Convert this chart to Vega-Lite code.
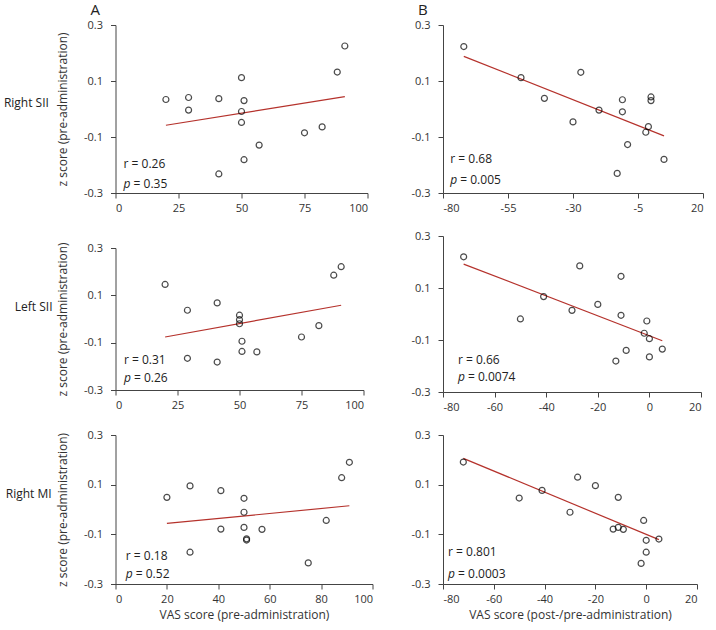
{
  "$schema": "https://vega.github.io/schema/vega-lite/v6.json",
  "padding": {"left": 1.5, "top": 3, "right": 0, "bottom": 4},
  "config": {
    "font": "Open Sans",
    "view": {"stroke": null},
    "axis": {"grid": false, "domainColor": "#444", "tickColor": "#444", "labelColor": "#333", "titleColor": "#333", "labelFont": "Open Sans", "titleFont": "Open Sans", "labelFontSize": 11, "titleFontSize": 12, "titleFontWeight": "normal", "tickSize": 5, "labelExpr": "'' + datum.value"},
    "axisX": {"labelPadding": 4, "titlePadding": 5},
    "axisY": {"labelPadding": 8, "titlePadding": 14},
    "title": {"font": "Open Sans", "fontWeight": "normal", "color": "#222"},
    "text": {"font": "Open Sans", "fontSize": 12, "color": "#222", "align": "left", "baseline": "middle"},
    "point": {"shape": "circle", "filled": false, "color": "black", "size": 36, "strokeWidth": 1.2},
    "line": {"color": "#b5322c", "strokeWidth": 1.2}
  },
  "datasets": {
    "A1": [
      {"k": "pt", "x": 20, "y": 0.034}, {"k": "pt", "x": 29, "y": 0.041}, {"k": "pt", "x": 29, "y": -0.004},
      {"k": "pt", "x": 41, "y": 0.037}, {"k": "pt", "x": 41, "y": -0.232}, {"k": "pt", "x": 50, "y": 0.112},
      {"k": "pt", "x": 50, "y": -0.009}, {"k": "pt", "x": 50, "y": -0.048}, {"k": "pt", "x": 51, "y": 0.030},
      {"k": "pt", "x": 51, "y": -0.181}, {"k": "pt", "x": 57, "y": -0.129}, {"k": "pt", "x": 75, "y": -0.085},
      {"k": "pt", "x": 82, "y": -0.064}, {"k": "pt", "x": 88, "y": 0.132}, {"k": "pt", "x": 91, "y": 0.225},
      {"k": "ln", "x": 20, "y": -0.058}, {"k": "ln", "x": 91, "y": 0.044},
      {"k": "r", "x": 3.2, "y": -0.197, "t": "r = 0.26"},
      {"k": "p", "x": 3.2, "y": -0.267, "t": "p"},
      {"k": "pv", "x": 3.2, "y": -0.267, "t": "= 0.35"}
    ],
    "A2": [
      {"k": "pt", "x": 20, "y": 0.146}, {"k": "pt", "x": 29, "y": 0.037}, {"k": "pt", "x": 29, "y": -0.166},
      {"k": "pt", "x": 41, "y": 0.068}, {"k": "pt", "x": 41, "y": -0.182}, {"k": "pt", "x": 50, "y": 0.016},
      {"k": "pt", "x": 50, "y": -0.003}, {"k": "pt", "x": 50, "y": -0.020}, {"k": "pt", "x": 51, "y": -0.094},
      {"k": "pt", "x": 51, "y": -0.137}, {"k": "pt", "x": 57, "y": -0.139}, {"k": "pt", "x": 75, "y": -0.076},
      {"k": "pt", "x": 82, "y": -0.028}, {"k": "pt", "x": 88, "y": 0.185}, {"k": "pt", "x": 91, "y": 0.221},
      {"k": "ln", "x": 20, "y": -0.076}, {"k": "ln", "x": 91, "y": 0.058},
      {"k": "r", "x": 3.4, "y": -0.175, "t": "r = 0.31"},
      {"k": "p", "x": 3.4, "y": -0.248, "t": "p"},
      {"k": "pv", "x": 3.4, "y": -0.248, "t": "= 0.26"}
    ],
    "A3": [
      {"k": "pt", "x": 20, "y": 0.049}, {"k": "pt", "x": 29, "y": 0.095}, {"k": "pt", "x": 29, "y": -0.172},
      {"k": "pt", "x": 41, "y": 0.076}, {"k": "pt", "x": 41, "y": -0.079}, {"k": "pt", "x": 50, "y": 0.045},
      {"k": "pt", "x": 50, "y": -0.011}, {"k": "pt", "x": 50, "y": -0.072}, {"k": "pt", "x": 51, "y": -0.118},
      {"k": "pt", "x": 51, "y": -0.123}, {"k": "pt", "x": 57, "y": -0.08}, {"k": "pt", "x": 75, "y": -0.215},
      {"k": "pt", "x": 82, "y": -0.044}, {"k": "pt", "x": 88, "y": 0.128}, {"k": "pt", "x": 91, "y": 0.19},
      {"k": "ln", "x": 20, "y": -0.056}, {"k": "ln", "x": 91, "y": 0.015},
      {"k": "r", "x": 4.0, "y": -0.189, "t": "r = 0.18"},
      {"k": "p", "x": 4.0, "y": -0.258, "t": "p"},
      {"k": "pv", "x": 4.0, "y": -0.258, "t": "= 0.52"}
    ],
    "B1": [
      {"k": "pt", "x": -72, "y": 0.223}, {"k": "pt", "x": -50, "y": 0.112}, {"k": "pt", "x": -41, "y": 0.038},
      {"k": "pt", "x": -27, "y": 0.131}, {"k": "pt", "x": -30, "y": -0.046}, {"k": "pt", "x": -20, "y": -0.004},
      {"k": "pt", "x": -11, "y": 0.033}, {"k": "pt", "x": -11, "y": -0.010}, {"k": "pt", "x": -9, "y": -0.127},
      {"k": "pt", "x": -13, "y": -0.23}, {"k": "pt", "x": 0, "y": 0.043}, {"k": "pt", "x": 0, "y": 0.030},
      {"k": "pt", "x": -1, "y": -0.063}, {"k": "pt", "x": -2, "y": -0.083}, {"k": "pt", "x": 5, "y": -0.18},
      {"k": "ln", "x": -72, "y": 0.188}, {"k": "ln", "x": 5, "y": -0.096},
      {"k": "r", "x": -77.2, "y": -0.179, "t": "r = 0.68"},
      {"k": "p", "x": -77.2, "y": -0.252, "t": "p"},
      {"k": "pv", "x": -77.2, "y": -0.252, "t": "= 0.005"}
    ],
    "B2": [
      {"k": "pt", "x": -72, "y": 0.22}, {"k": "pt", "x": -50, "y": -0.019}, {"k": "pt", "x": -41, "y": 0.067},
      {"k": "pt", "x": -30, "y": 0.014}, {"k": "pt", "x": -27, "y": 0.185}, {"k": "pt", "x": -20, "y": 0.037},
      {"k": "pt", "x": -11, "y": 0.145}, {"k": "pt", "x": -11, "y": -0.005}, {"k": "pt", "x": -9, "y": -0.14},
      {"k": "pt", "x": -13, "y": -0.181}, {"k": "pt", "x": -1, "y": -0.027}, {"k": "pt", "x": -2, "y": -0.074},
      {"k": "pt", "x": 0, "y": -0.095}, {"k": "pt", "x": 0, "y": -0.165}, {"k": "pt", "x": 5, "y": -0.135},
      {"k": "ln", "x": -72, "y": 0.192}, {"k": "ln", "x": 5, "y": -0.103},
      {"k": "r", "x": -74.2, "y": -0.176, "t": "r = 0.66"},
      {"k": "p", "x": -74.2, "y": -0.244, "t": "p"},
      {"k": "pv", "x": -74.2, "y": -0.244, "t": "= 0.0074"}
    ],
    "B3": [
      {"k": "pt", "x": -72, "y": 0.191}, {"k": "pt", "x": -50, "y": 0.046}, {"k": "pt", "x": -41, "y": 0.077},
      {"k": "pt", "x": -30, "y": -0.011}, {"k": "pt", "x": -27, "y": 0.13}, {"k": "pt", "x": -20, "y": 0.096},
      {"k": "pt", "x": -11, "y": 0.049}, {"k": "pt", "x": -13, "y": -0.079}, {"k": "pt", "x": -11, "y": -0.072},
      {"k": "pt", "x": -9, "y": -0.08}, {"k": "pt", "x": -1, "y": -0.044}, {"k": "pt", "x": 0, "y": -0.124},
      {"k": "pt", "x": 0, "y": -0.172}, {"k": "pt", "x": -2, "y": -0.217}, {"k": "pt", "x": 5, "y": -0.119},
      {"k": "ln", "x": -72, "y": 0.206}, {"k": "ln", "x": 5, "y": -0.1215},
      {"k": "r", "x": -78, "y": -0.171, "t": "r = 0.801"},
      {"k": "p", "x": -78, "y": -0.258, "t": "p"},
      {"k": "pv", "x": -78, "y": -0.258, "t": "= 0.0003"}
    ]
  },
  "spacing": 36.5,
  "hconcat": [
    {
      "title": {"text": "A", "anchor": "start", "frame": "group", "fontSize": 15, "dx": -25, "offset": 1},
      "bounds": "flush",
      "spacing": 55,
      "vconcat": [
        {
          "width": 252, "height": 168,
          "title": {"text": "Right  SII", "orient": "left", "angle": 0, "align": "center", "baseline": "middle", "anchor": "middle", "offset": -18, "dy": -6, "fontSize": 12},
          "data": {"name": "A1"},
          "encoding": {
            "x": {"field": "x", "type": "quantitative", "scale": {"domain": [0, 100], "nice": false}, "axis": {"values": [0, 25, 50, 75, 100], "title": null}},
            "y": {"field": "y", "type": "quantitative", "scale": {"domain": [-0.3, 0.3], "nice": false}, "axis": {"values": [-0.3, -0.1, 0.1, 0.3], "title": "z score (pre-administration)"}}
          },
          "layer": [
            {"transform": [{"filter": "datum.k == 'ln'"}], "mark": {"type": "line"}},
            {"transform": [{"filter": "datum.k == 'pt'"}], "mark": {"type": "point"}},
            {"transform": [{"filter": "datum.k == 'r'"}], "mark": {"type": "text"}, "encoding": {"text": {"field": "t"}}},
            {"transform": [{"filter": "datum.k == 'p'"}], "mark": {"type": "text", "fontStyle": "italic"}, "encoding": {"text": {"field": "t"}}},
            {"transform": [{"filter": "datum.k == 'pv'"}], "mark": {"type": "text", "dx": 10}, "encoding": {"text": {"field": "t"}}}
          ]
        },
        {
          "bounds": "flush",
          "spacing": 45,
          "vconcat": [
            {
              "width": 248, "height": 142,
              "title": {"text": "Left  SII", "orient": "left", "angle": 0, "align": "center", "baseline": "middle", "anchor": "middle", "offset": -18, "dy": -12, "fontSize": 12},
              "data": {"name": "A2"},
              "encoding": {
                "x": {"field": "x", "type": "quantitative", "scale": {"domain": [0, 100], "nice": false}, "axis": {"values": [0, 25, 50, 75, 100], "title": null}},
                "y": {"field": "y", "type": "quantitative", "scale": {"domain": [-0.3, 0.3], "nice": false}, "axis": {"values": [-0.3, -0.1, 0.1, 0.3], "title": "z score (pre-administration)"}}
              },
              "layer": [
                {"transform": [{"filter": "datum.k == 'ln'"}], "mark": {"type": "line"}},
                {"transform": [{"filter": "datum.k == 'pt'"}], "mark": {"type": "point"}},
                {"transform": [{"filter": "datum.k == 'r'"}], "mark": {"type": "text"}, "encoding": {"text": {"field": "t"}}},
                {"transform": [{"filter": "datum.k == 'p'"}], "mark": {"type": "text", "fontStyle": "italic"}, "encoding": {"text": {"field": "t"}}},
                {"transform": [{"filter": "datum.k == 'pv'"}], "mark": {"type": "text", "dx": 10}, "encoding": {"text": {"field": "t"}}}
              ]
            },
            {
              "width": 257, "height": 149,
              "title": {"text": "Right MI", "orient": "left", "angle": 0, "align": "center", "baseline": "middle", "anchor": "middle", "offset": -18, "dy": -16, "fontSize": 12},
              "data": {"name": "A3"},
              "encoding": {
                "x": {"field": "x", "type": "quantitative", "scale": {"domain": [0, 100], "nice": false}, "axis": {"values": [0, 20, 40, 60, 80, 100], "title": "VAS score (pre-administration)"}},
                "y": {"field": "y", "type": "quantitative", "scale": {"domain": [-0.3, 0.3], "nice": false}, "axis": {"values": [-0.3, -0.1, 0.1, 0.3], "title": "z score (pre-administration)"}}
              },
              "layer": [
                {"transform": [{"filter": "datum.k == 'ln'"}], "mark": {"type": "line"}},
                {"transform": [{"filter": "datum.k == 'pt'"}], "mark": {"type": "point"}},
                {"transform": [{"filter": "datum.k == 'r'"}], "mark": {"type": "text"}, "encoding": {"text": {"field": "t"}}},
                {"transform": [{"filter": "datum.k == 'p'"}], "mark": {"type": "text", "fontStyle": "italic"}, "encoding": {"text": {"field": "t"}}},
                {"transform": [{"filter": "datum.k == 'pv'"}], "mark": {"type": "text", "dx": 10}, "encoding": {"text": {"field": "t"}}}
              ]
            }
          ]
        }
      ]
    },
    {
      "title": {"text": "B", "anchor": "start", "frame": "group", "fontSize": 15, "dx": -25, "offset": 1},
      "bounds": "flush",
      "spacing": 43,
      "vconcat": [
        {
          "width": 260, "height": 168,
          "data": {"name": "B1"},
          "encoding": {
            "x": {"field": "x", "type": "quantitative", "scale": {"domain": [-80, 20], "nice": false}, "axis": {"values": [-80, -55, -30, -5, 20], "title": null}},
            "y": {"field": "y", "type": "quantitative", "scale": {"domain": [-0.3, 0.3], "nice": false}, "axis": {"values": [-0.3, -0.1, 0.1, 0.3], "title": null}}
          },
          "layer": [
            {"transform": [{"filter": "datum.k == 'ln'"}], "mark": {"type": "line"}},
            {"transform": [{"filter": "datum.k == 'pt'"}], "mark": {"type": "point"}},
            {"transform": [{"filter": "datum.k == 'r'"}], "mark": {"type": "text"}, "encoding": {"text": {"field": "t"}}},
            {"transform": [{"filter": "datum.k == 'p'"}], "mark": {"type": "text", "fontStyle": "italic"}, "encoding": {"text": {"field": "t"}}},
            {"transform": [{"filter": "datum.k == 'pv'"}], "mark": {"type": "text", "dx": 10}, "encoding": {"text": {"field": "t"}}}
          ]
        },
        {
          "width": 258, "height": 156,
          "data": {"name": "B2"},
          "encoding": {
            "x": {"field": "x", "type": "quantitative", "scale": {"domain": [-80, 20], "nice": false}, "axis": {"values": [-80, -60, -40, -20, 0, 20], "title": null}},
            "y": {"field": "y", "type": "quantitative", "scale": {"domain": [-0.3, 0.3], "nice": false}, "axis": {"values": [-0.3, -0.1, 0.1, 0.3], "title": null}}
          },
          "layer": [
            {"transform": [{"filter": "datum.k == 'ln'"}], "mark": {"type": "line"}},
            {"transform": [{"filter": "datum.k == 'pt'"}], "mark": {"type": "point"}},
            {"transform": [{"filter": "datum.k == 'r'"}], "mark": {"type": "text"}, "encoding": {"text": {"field": "t"}}},
            {"transform": [{"filter": "datum.k == 'p'"}], "mark": {"type": "text", "fontStyle": "italic"}, "encoding": {"text": {"field": "t"}}},
            {"transform": [{"filter": "datum.k == 'pv'"}], "mark": {"type": "text", "dx": 10}, "encoding": {"text": {"field": "t"}}}
          ]
        },
        {
          "width": 254, "height": 149,
          "data": {"name": "B3"},
          "encoding": {
            "x": {"field": "x", "type": "quantitative", "scale": {"domain": [-80, 20], "nice": false}, "axis": {"values": [-80, -60, -40, -20, 0, 20], "title": "VAS score (post-/pre-administration)"}},
            "y": {"field": "y", "type": "quantitative", "scale": {"domain": [-0.3, 0.3], "nice": false}, "axis": {"values": [-0.3, -0.1, 0.1, 0.3], "title": null}}
          },
          "layer": [
            {"transform": [{"filter": "datum.k == 'ln'"}], "mark": {"type": "line"}},
            {"transform": [{"filter": "datum.k == 'pt'"}], "mark": {"type": "point"}},
            {"transform": [{"filter": "datum.k == 'r'"}], "mark": {"type": "text"}, "encoding": {"text": {"field": "t"}}},
            {"transform": [{"filter": "datum.k == 'p'"}], "mark": {"type": "text", "fontStyle": "italic"}, "encoding": {"text": {"field": "t"}}},
            {"transform": [{"filter": "datum.k == 'pv'"}], "mark": {"type": "text", "dx": 10}, "encoding": {"text": {"field": "t"}}}
          ]
        }
      ]
    }
  ]
}
